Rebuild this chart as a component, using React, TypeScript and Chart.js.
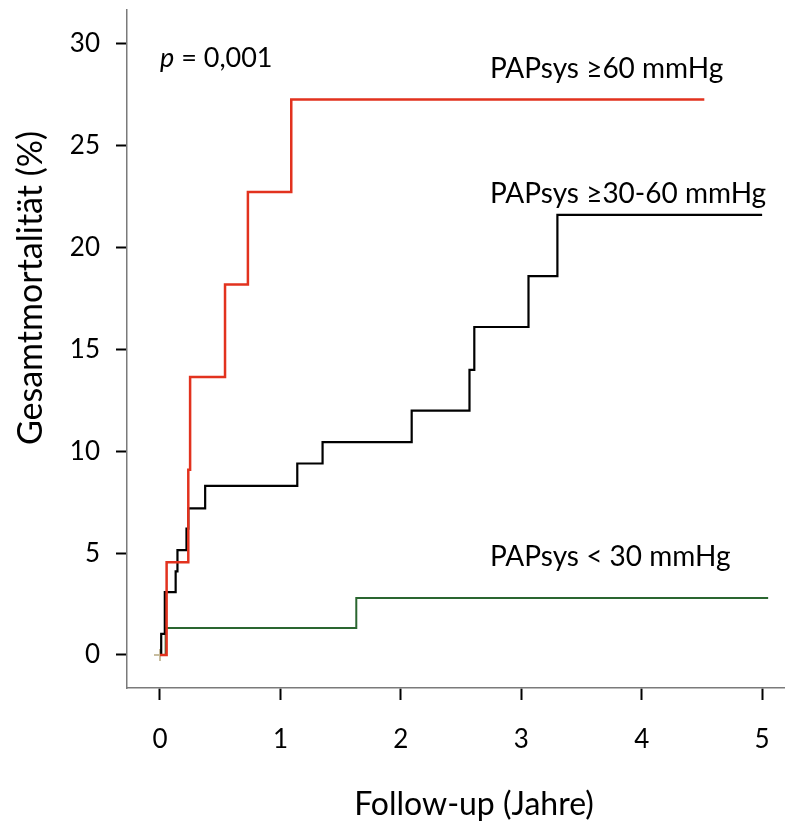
import React, { useEffect, useRef } from "react";
import { Chart, registerables } from "chart.js";

Chart.register(...registerables);

// ---- data (time in years, cumulative mortality in %) ----
const xTickValues = [0, 1, 2, 3, 4, 5];
const yTickValues = [0, 5, 10, 15, 20, 25, 30];

const highTimes = [0, 0.055, 0.235, 0.25, 0.54, 0.73, 1.09, 4.52];
const highValues = [0, 4.55, 9.09, 13.64, 18.18, 22.73, 27.27, 27.27];

const midTimes = [0, 0.01, 0.04, 0.13, 0.145, 0.22, 0.235, 0.375, 1.14, 1.35, 2.09, 2.57, 2.61, 3.06, 3.3, 5.0];
const midValues = [0, 1.04, 3.09, 4.1, 5.15, 6.2, 7.2, 8.3, 9.4, 10.45, 12.0, 14.0, 16.1, 18.6, 21.6, 21.6];

const lowTimes = [0, 0.047, 1.63, 5.05];
const lowValues = [0, 1.32, 2.8, 2.8];

const censorTimes = [0];
const censorValues = [0];

const seriesLabels = ["PAPsys ≥60 mmHg", "PAPsys ≥30-60 mmHg", "PAPsys < 30 mmHg"];
const labelAnchorsX = [2.74, 2.74, 2.74];
const labelAnchorsY = [28.33, 22.19, 4.37];
const pAnchor = { x: 0, y: 28.88 };
const pValueText = " = 0,001";
const xTitle = "Follow-up (Jahre)";
const yTitle = "Gesamtmortalität (%)";

const FONT = "Lato, 'Open Sans', sans-serif";

const toPoints = (xs: number[], ys: number[]) => xs.map((x, i) => ({ x, y: ys[i] }));

const textPlugin = {
  id: "textPlugin",
  afterDraw(chart: any) {
    const { ctx, scales } = chart;
    const xs = scales.x;
    const ys = scales.y;
    ctx.save();
    ctx.fillStyle = "#000";
    ctx.textBaseline = "alphabetic";
    ctx.textAlign = "left";
    ctx.font = `28px ${FONT}`;
    seriesLabels.forEach((t, i) => {
      ctx.fillText(t, xs.getPixelForValue(labelAnchorsX[i]), ys.getPixelForValue(labelAnchorsY[i]));
    });
    // p-value
    const px = xs.getPixelForValue(pAnchor.x);
    const py = ys.getPixelForValue(pAnchor.y);
    ctx.font = `italic 27px ${FONT}`;
    ctx.fillText("p", px, py);
    const w = ctx.measureText("p").width;
    ctx.font = `27px ${FONT}`;
    ctx.fillText(pValueText, px + w, py);
    // axis titles
    ctx.textAlign = "center";
    ctx.font = `32px ${FONT}`;
    ctx.fillText(xTitle, 474, 815);
    ctx.save();
    ctx.translate(42, 288);
    ctx.rotate(-Math.PI / 2);
    ctx.font = `34px ${FONT}`;
    ctx.fillText(yTitle, 0, 0);
    ctx.restore();
    ctx.restore();
  },
};

export default function App() {
  const ref = useRef<HTMLCanvasElement | null>(null);

  useEffect(() => {
    if (!ref.current) return;
    const tickFont = { family: FONT, size: 26 };
    const chart = new Chart(ref.current, {
      type: "line",
      data: {
        datasets: [
          {
            label: seriesLabels[0],
            data: toPoints(highTimes, highValues),
            borderColor: "#e2321e",
            borderWidth: 2.5,
            stepped: "before",
            pointRadius: 0,
            fill: false,
          },
          {
            label: seriesLabels[1],
            data: toPoints(midTimes, midValues),
            borderColor: "#000000",
            borderWidth: 2.2,
            stepped: "before",
            pointRadius: 0,
            fill: false,
          },
          {
            label: seriesLabels[2],
            data: toPoints(lowTimes, lowValues),
            borderColor: "#2a6630",
            borderWidth: 2,
            stepped: "before",
            pointRadius: 0,
            fill: false,
          },
          {
            label: "censored",
            data: toPoints(censorTimes, censorValues),
            showLine: false,
            pointStyle: "cross",
            pointRadius: 6,
            borderColor: "#c8bd9f",
            borderWidth: 2,
          },
        ],
      },
      options: {
        animation: false,
        responsive: false,
        maintainAspectRatio: false,
        layout: { autoPadding: false, padding: { top: 10, left: 0, right: 0, bottom: 0 } },
        plugins: { legend: { display: false }, tooltip: { enabled: false } },
        scales: {
          x: {
            type: "linear",
            min: -0.274,
            max: 5.19,
            afterBuildTicks: (s: any) => {
              s.ticks = xTickValues.map((v) => ({ value: v }));
            },
            afterFit: (s: any) => {
              s.height = 135;
              s.paddingLeft = 0;
              s.paddingRight = 0;
            },
            grid: { drawOnChartArea: false, drawTicks: true, tickLength: 12, tickColor: "#000", tickWidth: 2 },
            border: { display: true, color: "#7a7a7a", width: 1.5 },
            ticks: { font: tickFont, color: "#000", padding: 24, maxRotation: 0 },
          },
          y: {
            type: "linear",
            min: -1.62,
            max: 31.66,
            afterBuildTicks: (s: any) => {
              s.ticks = yTickValues.map((v) => ({ value: v }));
            },
            afterFit: (s: any) => {
              s.width = 127;
              s.paddingTop = 0;
              s.paddingBottom = 0;
            },
            grid: { drawOnChartArea: false, drawTicks: true, tickLength: 11, tickColor: "#000", tickWidth: 2 },
            border: { display: true, color: "#7a7a7a", width: 1.5 },
            ticks: { font: tickFont, color: "#000", padding: 16 },
          },
        },
      },
      plugins: [textPlugin],
    } as any);
    return () => chart.destroy();
  }, []);

  return (
    <div style={{ position: "fixed", left: 0, top: 0, width: 785, height: 823, background: "#fff" }}>
      <canvas ref={ref} width={785} height={823} style={{ display: "block" }} />
    </div>
  );
}
